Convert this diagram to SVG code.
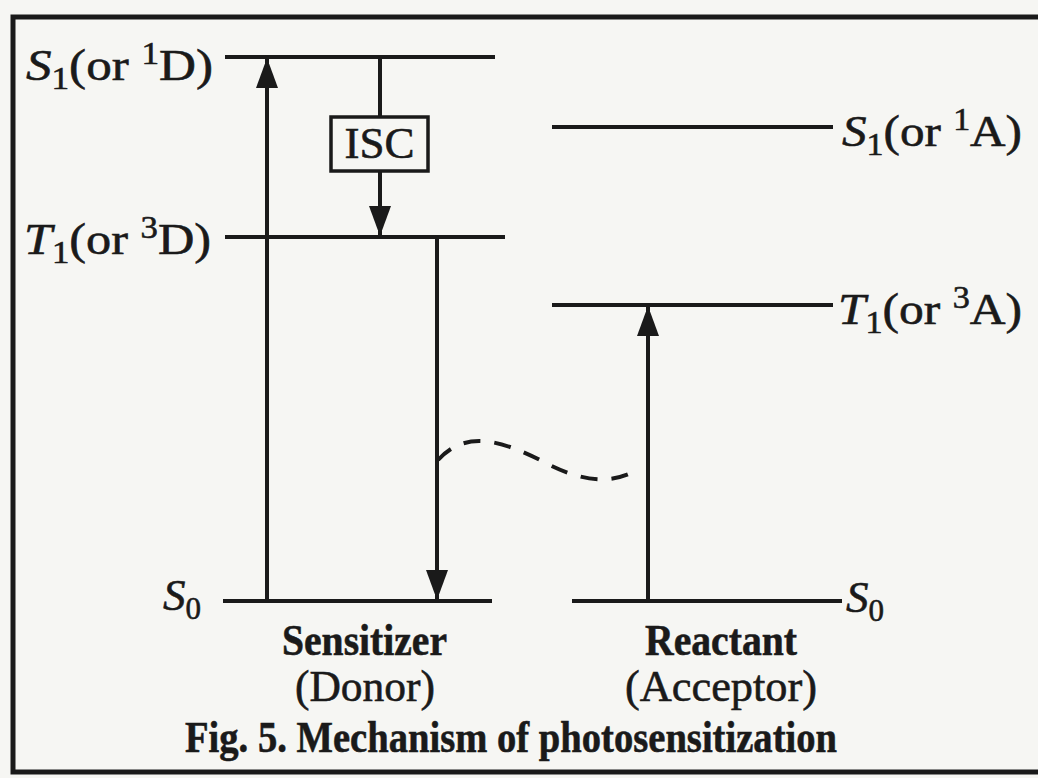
<svg xmlns="http://www.w3.org/2000/svg" width="1038" height="778" viewBox="0 0 1038 778">
<defs>
<marker id="ah" markerUnits="userSpaceOnUse" markerWidth="24" markerHeight="32" viewBox="0 0 24 32" refX="30" refY="12" orient="auto">
<path d="M0,1 L30,12 L0,23 Z" fill="#1a1a1a"/>
</marker>
<style>
.lvl{stroke:#1a1a1a;stroke-width:4;fill:none}
.arr{stroke:#1a1a1a;stroke-width:4;fill:none;marker-end:url(#ah)}
.lab{font-family:"Liberation Serif","Times New Roman",serif;font-size:45px;fill:#1a1a1a;stroke:#1a1a1a;stroke-width:0.6}
.it{font-style:italic}
.sm{font-size:31px}
.b{font-weight:bold}
</style>
</defs>
<rect width="1038" height="778" fill="#f6f6f3"/>
<rect id="frame" x="13" y="17" width="1040" height="755" fill="none" stroke="#1a1a1a" stroke-width="5"/>

<g id="donor-S1">
<line class="lvl" x1="225" y1="57" x2="495" y2="57"/>
<text class="lab" x="26" y="80" textLength="187" lengthAdjust="spacingAndGlyphs"><tspan class="it">S</tspan><tspan class="sm" dy="9">1</tspan><tspan dy="-9">(or </tspan><tspan class="sm" dy="-16">1</tspan><tspan dy="16">D)</tspan></text>
</g>
<g id="donor-T1">
<line class="lvl" x1="225" y1="237" x2="505" y2="237"/>
<text class="lab" x="24" y="254" textLength="187" lengthAdjust="spacingAndGlyphs"><tspan class="it">T</tspan><tspan class="sm" dy="9">1</tspan><tspan dy="-9">(or </tspan><tspan class="sm" dy="-16">3</tspan><tspan dy="16">D)</tspan></text>
</g>
<g id="donor-S0">
<line class="lvl" x1="223" y1="601" x2="492" y2="601"/>
<text class="lab" x="163" y="610"><tspan class="it">S</tspan><tspan class="sm" dy="9">0</tspan></text>
</g>
<g id="acceptor-S1">
<line class="lvl" x1="552" y1="127" x2="833" y2="127" stroke-width="3"/>
<text class="lab" x="842" y="146" textLength="180" lengthAdjust="spacingAndGlyphs"><tspan class="it">S</tspan><tspan class="sm" dy="9">1</tspan><tspan dy="-9">(or </tspan><tspan class="sm" dy="-16">1</tspan><tspan dy="16">A)</tspan></text>
</g>
<g id="acceptor-T1">
<line class="lvl" x1="552" y1="305" x2="833" y2="305"/>
<text class="lab" x="838" y="324" textLength="184" lengthAdjust="spacingAndGlyphs"><tspan class="it">T</tspan><tspan class="sm" dy="9">1</tspan><tspan dy="-9">(or </tspan><tspan class="sm" dy="-16">3</tspan><tspan dy="16">A)</tspan></text>
</g>
<g id="acceptor-S0">
<line class="lvl" x1="572" y1="601" x2="842" y2="601"/>
<text class="lab" x="846" y="612"><tspan class="it">S</tspan><tspan class="sm" dy="9">0</tspan></text>
</g>

<g id="connectors">
<line class="arr" x1="267" y1="601" x2="267" y2="58"/>
<line class="arr" x1="380" y1="57" x2="380" y2="236"/>
<line class="arr" x1="437" y1="237" x2="437" y2="600"/>
<line class="arr" x1="648" y1="601" x2="648" y2="306"/>
<path class="lvl" d="M438,460 C465,430 500,440 540,460 C580,482 610,485 637,470" stroke-dasharray="17 14"/>
</g>

<g id="isc">
<rect x="331" y="117" width="97" height="54" fill="#f6f6f3" stroke="#1a1a1a" stroke-width="3.5"/>
<text class="lab" x="379.5" y="158" text-anchor="middle" font-size="40">ISC</text>
</g>

<g id="labels">
<text class="lab b" x="364.5" y="655" text-anchor="middle" font-size="38" stroke-width="0" textLength="165" lengthAdjust="spacingAndGlyphs">Sensitizer</text>
<text class="lab" x="365" y="701" text-anchor="middle" font-size="40" textLength="140" lengthAdjust="spacingAndGlyphs">(Donor)</text>
<text class="lab b" x="721" y="655" text-anchor="middle" font-size="38" stroke-width="0" textLength="152" lengthAdjust="spacingAndGlyphs">Reactant</text>
<text class="lab" x="721" y="701" text-anchor="middle" font-size="40" textLength="192" lengthAdjust="spacingAndGlyphs">(Acceptor)</text>
<text class="lab b" x="185" y="752" font-size="40" stroke-width="0" textLength="652" lengthAdjust="spacingAndGlyphs">Fig. 5. Mechanism of photosensitization</text>
</g>
</svg>
